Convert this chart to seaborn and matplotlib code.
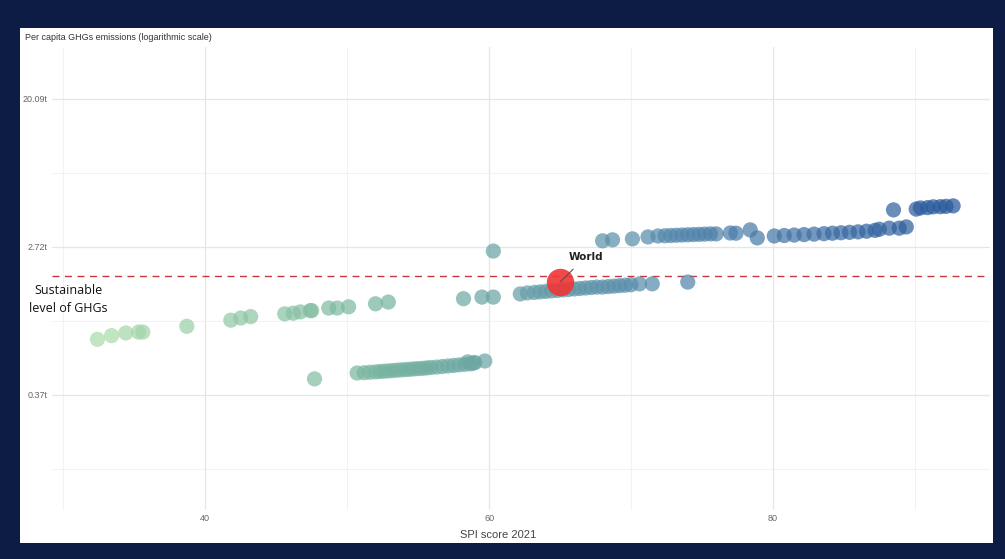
import numpy as np
import pandas as pd
import seaborn as sns
import matplotlib.pyplot as plt
from matplotlib.colors import LinearSegmentedColormap
from matplotlib.ticker import FixedLocator, NullFormatter

# SPI score 2021 vs per capita GHG emissions (tonnes)
# left green group
spi_a = [32.4, 33.4, 34.4, 35.3, 35.6, 38.7, 41.8, 42.5, 43.2, 45.6, 46.2,
         46.7, 47.4, 47.5, 48.7, 49.3, 50.1, 52.0, 52.9, 58.2, 59.5, 60.3]
ghg_a = [0.78, 0.82, 0.85, 0.86, 0.86, 0.93, 1.01, 1.04, 1.06, 1.10, 1.11,
         1.13, 1.15, 1.15, 1.19, 1.19, 1.21, 1.26, 1.29, 1.35, 1.38, 1.38]

# lower streak
spi_b = [47.7, 50.7, 51.2, 51.6, 52.0, 52.3, 52.6, 52.9, 53.2, 53.5, 53.8,
         54.1, 54.4, 54.7, 55.0, 55.3, 55.6, 55.9, 56.3, 56.7, 57.1, 57.5,
         57.9, 58.3, 58.5, 58.7, 58.9, 59.0, 59.7]
ghg_b = [0.457, 0.495, 0.497, 0.500, 0.502, 0.505, 0.507, 0.509, 0.511, 0.514,
         0.516, 0.518, 0.520, 0.523, 0.525, 0.527, 0.530, 0.533, 0.536, 0.540,
         0.544, 0.548, 0.552, 0.556, 0.575, 0.560, 0.566, 0.570, 0.582]

# middle streak (around the world average)
spi_c = [60.3, 62.2, 62.7, 63.2, 63.6, 64.0, 64.4, 64.8, 65.2, 65.6, 66.0,
         66.4, 66.8, 67.2, 67.6, 68.0, 68.4, 68.8, 69.2, 69.6, 70.0, 70.6,
         71.5, 74.0]
ghg_c = [2.57, 1.44, 1.46, 1.47, 1.48, 1.49, 1.50, 1.51, 1.52, 1.53, 1.54,
         1.55, 1.56, 1.57, 1.58, 1.58, 1.59, 1.60, 1.61, 1.62, 1.63, 1.65,
         1.65, 1.69]

# upper streaks
spi_d = [68.0, 68.7, 70.1, 71.2, 71.9, 72.4, 72.8, 73.2, 73.6, 74.0, 74.4,
         74.8, 75.2, 75.6, 76.0, 77.0, 77.4, 78.4, 78.9,
         80.1, 80.8, 81.5, 82.2, 82.9, 83.6, 84.2, 84.8, 85.4, 86.0, 86.6,
         87.2, 87.5, 88.2, 88.9, 89.4,
         88.5, 90.1, 90.4, 90.9, 91.3, 91.8, 92.2, 92.7]
ghg_d = [2.95, 2.99, 3.03, 3.11, 3.15, 3.16, 3.17, 3.18, 3.19, 3.20, 3.21,
         3.22, 3.23, 3.24, 3.24, 3.28, 3.27, 3.42, 3.07,
         3.15, 3.17, 3.19, 3.21, 3.23, 3.25, 3.27, 3.29, 3.31, 3.33, 3.36,
         3.40, 3.45, 3.50, 3.50, 3.56,
         4.48, 4.53, 4.60, 4.62, 4.67, 4.68, 4.70, 4.73]

world_spi = 65.0
world_ghg = 1.69
sustainable_ghg = 1.84

y_ticks = [np.exp(-1), np.exp(1), np.exp(3)]
y_tick_labels = ['0.37t', '2.72t', '20.09t']

df = pd.DataFrame({
    'spi': spi_a + spi_b + spi_c + spi_d,
    'ghg': ghg_a + ghg_b + ghg_c + ghg_d,
})

sns.set_theme(style='white')
plt.rcParams['font.family'] = ['Liberation Sans', 'DejaVu Sans']

fig = plt.figure(figsize=(10.05, 5.59), dpi=100)
fig.patch.set_facecolor('#0c1c44')

# white card behind the chart
bg = fig.add_axes([20 / 1005, 1 - 543 / 559, 973 / 1005, 515 / 559])
bg.set_facecolor('white')
bg.set_xticks([])
bg.set_yticks([])
for s in bg.spines.values():
    s.set_visible(False)

ax = fig.add_axes([52 / 1005, 1 - 510 / 559, 938 / 1005, 463 / 559])
ax.set_facecolor('none')

cmap = LinearSegmentedColormap.from_list(
    'spi', ['#acdcaa', '#78b5a0', '#5689ad', '#27579b'])

sns.scatterplot(data=df, x='spi', y='ghg', hue='spi', palette=cmap,
                hue_norm=(32, 93), s=120, alpha=0.72, linewidth=0,
                legend=False, ax=ax, zorder=3)
ax.scatter([world_spi], [world_ghg], s=390, color='#f03535', alpha=0.9,
           linewidth=0, zorder=4)

ax.axhline(sustainable_ghg, color='#c23a40', lw=1, ls=(0, (5, 4)), zorder=2)

ax.set_yscale('log')
ax.set_xlim(29.2, 95.3)
ax.set_ylim(np.exp(-2.554), np.exp(3.70))
ax.set_xticks([40, 60, 80])
ax.set_xticks([30, 50, 70, 90], minor=True)
ax.yaxis.set_major_locator(FixedLocator(y_ticks))
ax.set_yticklabels(y_tick_labels)
ax.yaxis.set_minor_locator(FixedLocator([np.exp(-2), np.exp(0), np.exp(2)]))
ax.yaxis.set_minor_formatter(NullFormatter())
ax.grid(which='major', color='#e6e6e6', lw=0.9)
ax.grid(which='minor', color='#f2f2f2', lw=0.7)
ax.tick_params(which='both', length=0, labelsize=6.5, labelcolor='#666666', pad=3)
for s in ax.spines.values():
    s.set_visible(False)
ax.set_xlabel('')
ax.set_ylabel('')

ax.annotate('World', xy=(world_spi, world_ghg), xytext=(66.8, 2.37),
            ha='center', va='center', fontsize=7.5, fontweight='bold',
            color='#222222', family='DejaVu Sans',
            arrowprops=dict(arrowstyle='-', color='#555555', lw=0.8,
                            shrinkA=4, shrinkB=0), zorder=5)

fig.text(25 / 1005, 1 - 38 / 559, 'Per capita GHGs emissions (logarithmic scale)',
         fontsize=6.5, color='#333333', va='center', ha='left')
fig.text(498 / 1005, 1 - 535 / 559, 'SPI score 2021', fontsize=8,
         color='#444444', va='center', ha='center')
fig.text(68 / 1005, 1 - 300 / 559, 'Sustainable\nlevel of GHGs', fontsize=9,
         color='#111111', va='center', ha='center', family='Open Sans',
         linespacing=1.5)

fig.savefig('out.png', dpi=100, facecolor=fig.get_facecolor())
